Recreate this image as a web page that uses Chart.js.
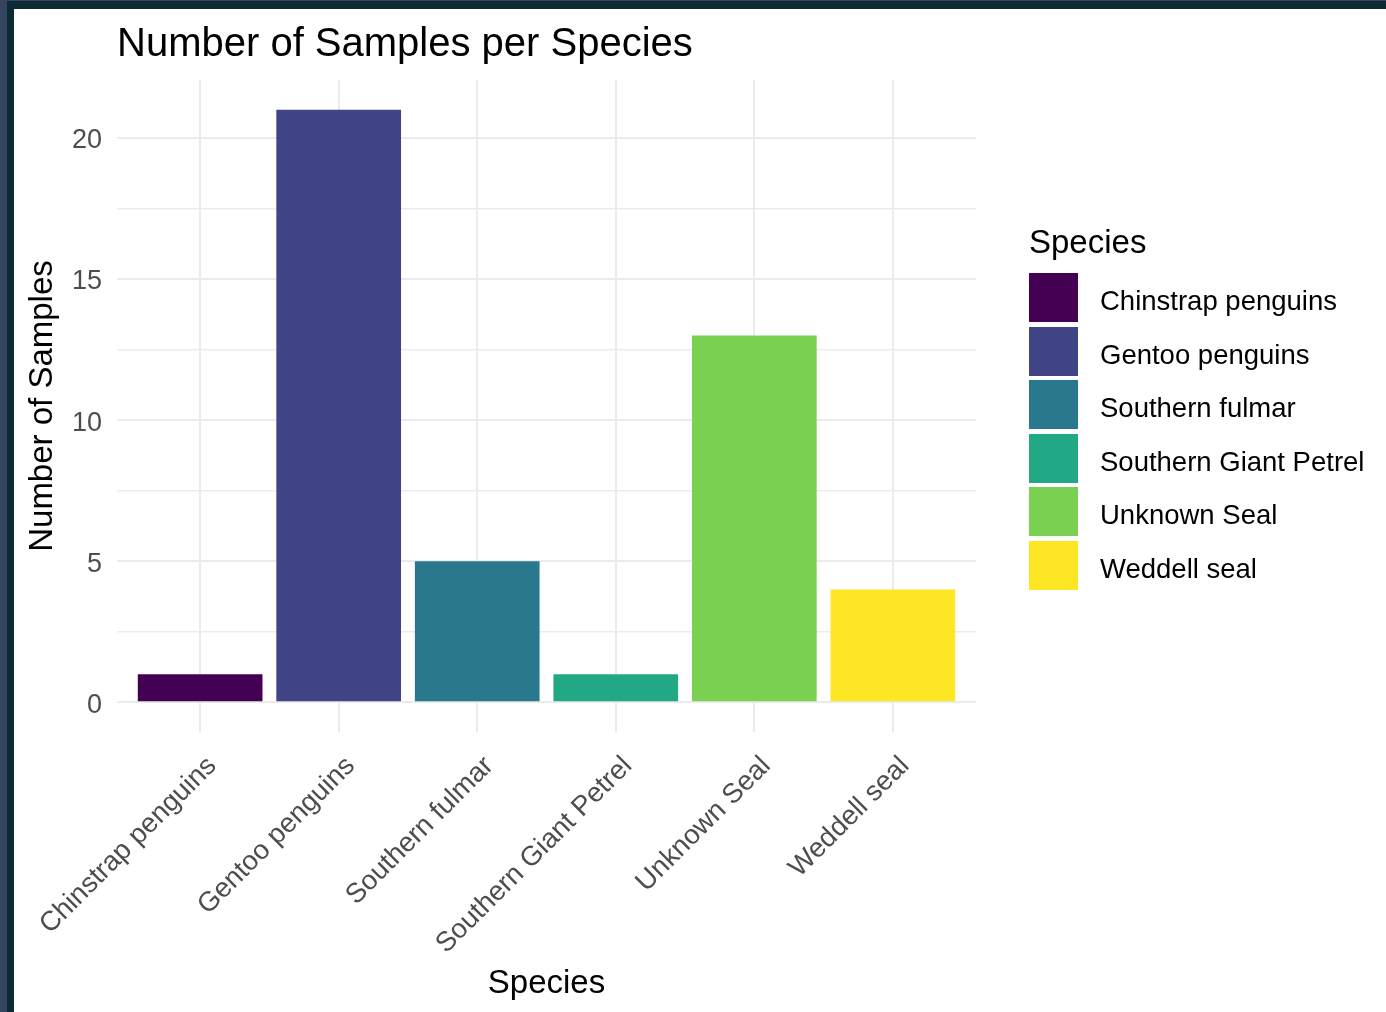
<!DOCTYPE html>
<html>
<head>
<meta charset="utf-8">
<script src="https://cdn.jsdelivr.net/npm/chart.js@4"></script>
<style>
  html, body { margin: 0; padding: 0; background: #34455f; width: 1386px; height: 1012px; overflow: hidden; }
  #frame { position: absolute; left: 7px; top: 1px; right: 0; bottom: 0; background: #0c2a33; }
  #panel { position: absolute; left: 14px; top: 9px; width: 1372px; height: 1003px; background: #ffffff; }
  #wrap { position: absolute; left: 0; top: 0; width: 1372px; height: 1003px; }
  #legend { position: absolute; left: 1015px; top: 0; font-family: 'Liberation Sans', Arial, sans-serif; color: #000; }
  #legend .ltitle { position: absolute; left: 0; top: 215.8px; font-size: 33px; line-height: 33px; white-space: nowrap; }
  #legend .item { position: absolute; left: 0; height: 49px; white-space: nowrap; }
  #legend .box { position: absolute; left: 0; top: 0; width: 49px; height: 49px; }
  #legend .txt { position: absolute; left: 71px; top: 3px; font-size: 27.5px; line-height: 49px; }
</style>
</head>
<body>
<div id="frame"></div>
<div id="panel">
  <div id="wrap"><canvas id="c"></canvas></div>
  <div id="legend"></div>
</div>
<script>
const chartTitle = "Number of Samples per Species";
const xTitle = "Species";
const yTitle = "Number of Samples";
const legendTitle = "Species";
const categories = ["Chinstrap penguins", "Gentoo penguins", "Southern fulmar", "Southern Giant Petrel", "Unknown Seal", "Weddell seal"];
const counts = [1, 21, 5, 1, 13, 4];
const colors = ["#440154", "#414487", "#2A788E", "#22A884", "#7AD151", "#FDE725"];
const yMajorTicks = [0, 5, 10, 15, 20];
const yMinorTicks = [2.5, 7.5, 12.5, 17.5];

const FONT = "'Liberation Sans', Arial, sans-serif";
const GRID = "#ebebeb";

const allYTicks = yMajorTicks.concat(yMinorTicks).sort((a, b) => a - b);
const isMajor = v => yMajorTicks.includes(v);

// HTML legend built from the chart's own data (Chart.js "HTML legend" pattern)
const htmlLegendPlugin = {
  id: 'htmlLegend',
  afterUpdate(chart) {
    const el = document.getElementById('legend');
    el.innerHTML = '';
    const t = document.createElement('div');
    t.className = 'ltitle';
    t.textContent = legendTitle;
    el.appendChild(t);
    const ds = chart.data.datasets[0];
    ds.data.forEach((d, i) => {
      const item = document.createElement('div');
      item.className = 'item';
      item.style.top = (264.3 + i * 53.5) + 'px';
      const b = document.createElement('div');
      b.className = 'box';
      b.style.background = ds.backgroundColor[i];
      const tx = document.createElement('div');
      tx.className = 'txt';
      tx.textContent = categories[d.x];
      item.appendChild(b);
      item.appendChild(tx);
      el.appendChild(item);
    });
  }
};

new Chart(document.getElementById('c'), {
  type: 'bar',
  data: {
    datasets: [{
      data: categories.map((c, i) => ({ x: i, y: counts[i] })),
      backgroundColor: colors,
      borderWidth: 0,
      barPercentage: 0.9,
      categoryPercentage: 1.0
    }]
  },
  plugins: [htmlLegendPlugin],
  options: {
    responsive: true,
    maintainAspectRatio: false,
    animation: false,
    devicePixelRatio: 1,
    layout: { padding: { left: 0, right: 410, top: 0, bottom: 0 } },
    plugins: {
      tooltip: { enabled: false },
      legend: { display: false },
      title: {
        display: true,
        text: chartTitle,
        align: 'start',
        fullSize: false,
        color: '#000000',
        font: { family: FONT, size: 40, weight: 'normal' },
        padding: { top: 12, bottom: 11 }
      }
    },
    scales: {
      x: {
        type: 'linear',
        min: -0.6,
        max: 5.6,
        offset: false,
        afterBuildTicks: s => { s.ticks = categories.map((c, i) => ({ value: i })); },
        afterFit: s => { s.height = 280; s.paddingLeft = 0; s.paddingRight = 0; },
        border: { display: false },
        grid: { color: GRID, lineWidth: 2, drawTicks: false, offset: false },
        ticks: {
          autoSkip: false,
          maxRotation: 45,
          minRotation: 45,
          padding: 18,
          labelOffset: 12,
          color: '#4d4d4d',
          font: { family: FONT, size: 27.5 },
          callback: v => categories[v]
        },
        title: {
          display: true,
          text: xTitle,
          color: '#000000',
          font: { family: FONT, size: 33 },
          padding: { top: 8, bottom: 8 }
        }
      },
      y: {
        type: 'linear',
        position: 'left',
        min: -1.05,
        max: 22.05,
        afterBuildTicks: s => { s.ticks = allYTicks.map(v => ({ value: v })); },
        afterFit: s => { s.width = 103; },
        border: { display: false },
        grid: {
          drawTicks: false,
          color: GRID,
          lineWidth: c => (c.tick && isMajor(c.tick.value)) ? 2 : 1.5
        },
        ticks: {
          padding: 15,
          labelOffset: 3,
          color: '#4d4d4d',
          font: { family: FONT, size: 27 },
          callback: v => isMajor(v) ? String(v) : ''
        },
        title: {
          display: true,
          text: yTitle,
          color: '#000000',
          font: { family: FONT, size: 33 },
          padding: { top: 9, bottom: 9 }
        }
      }
    }
  }
});
</script>
</body>
</html>
